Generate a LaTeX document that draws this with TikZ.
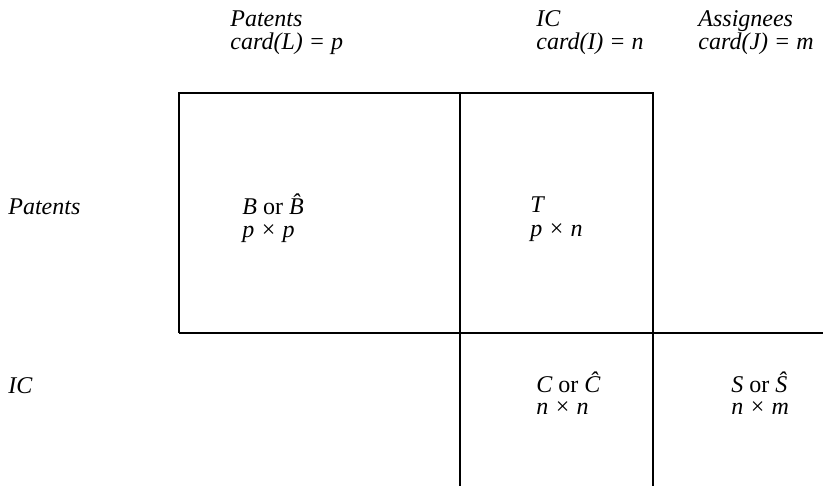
\documentclass[tikz,border=0pt]{standalone}
\usepackage{fontspec}
\setmainfont{Liberation Serif}
\begin{document}
\begin{tikzpicture}[x=0.5pt,y=-0.5pt,
  lbl/.style={anchor=base west,inner sep=0pt,font=\fontsize{12}{12}\selectfont\itshape},
  grid/.style={line width=1pt}]
\useasboundingbox (0,0) rectangle (823,486);
% grid
\coordinate (tl) at (179,93);
\coordinate (tm) at (460,93);
\coordinate (tr) at (653,93);
\coordinate (ml) at (179,333);
\coordinate (mr) at (823,333);
\coordinate (bm) at (460,486);
\coordinate (br) at (653,486);
\draw[grid] (ml) -- (tl) -- (tr) -- (br);
\draw[grid] (tm) -- (bm);
\draw[grid] (ml) -- (mr);
% column headers
\node[lbl] (h1a) at (230,27) {Patents};
\node[lbl] (h1b) at (230,50) {card(L) = p};
\node[lbl] (h2a) at (536,27) {IC};
\node[lbl] (h2b) at (536,50) {card(I) = n};
\node[lbl] (h3a) at (698,27) {Assignees};
\node[lbl] (h3b) at (698,50) {card(J) = m};
% row headers
\node[lbl] (r1) at (8,214) {Patents};
\node[lbl] (r2) at (8,393) {IC};
% cells
\node[lbl] (b1) at (242,214) {B \upshape or \itshape B̂};
\node[lbl] (b2) at (242,237) {p × p};
\node[lbl] (t1) at (530,213) {T};
\node[lbl] (t2) at (530,236) {p × n};
\node[lbl] (c1) at (536,392) {C \upshape or \itshape Ĉ};
\node[lbl] (c2) at (536,414) {n × n};
\node[lbl] (s1) at (731,392) {S \upshape or \itshape Ŝ};
\node[lbl] (s2) at (731,414) {n × m};
\end{tikzpicture}
\end{document}
